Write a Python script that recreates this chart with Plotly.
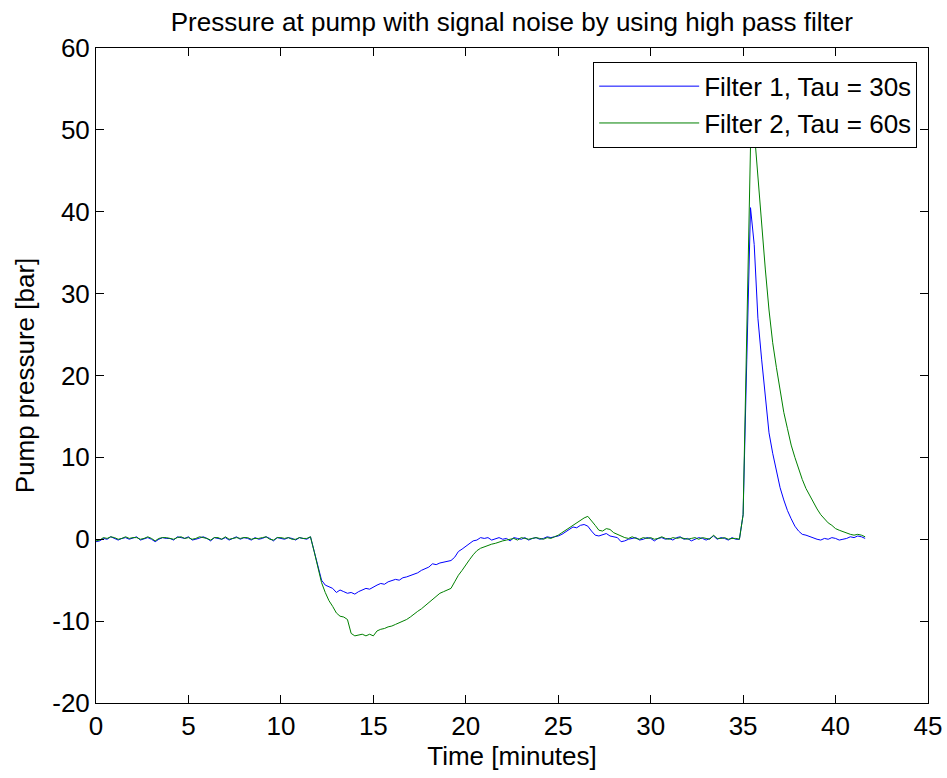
import numpy as np
import plotly.graph_objects as go

TIME_STEP_MIN = 0.2

filter1_tau30 = [
    -0.3, -0.2, 0.1, 0.0, 0.3, 0.1, -0.1, 0.1, 0.2, 0.0,
    0.2, 0.3, -0.1, 0.1, 0.2, 0.0, -0.3, 0.0, 0.2, 0.1,
    0.1, -0.1, 0.3, 0.2, 0.1, 0.3, -0.1, 0.0, 0.2, 0.3,
    0.1, -0.2, 0.2, 0.1, 0.0, 0.2, -0.1, 0.1, 0.3, 0.0,
    0.2, 0.1, -0.1, 0.2, 0.0, 0.1, 0.3, 0.1, -0.2, 0.2,
    0.1, 0.0, 0.2, 0.1, -0.1, 0.2, 0.1, 0.0, 0.3, -1.5,
    -3.5, -5.0, -5.6, -5.8, -6.0, -6.5, -6.2, -6.4, -6.6, -6.5,
    -6.7, -6.4, -6.2, -6.0, -6.1, -5.8, -5.6, -5.4, -5.5, -5.2,
    -5.0, -4.9, -5.0, -4.7, -4.6, -4.4, -4.2, -4.1, -3.8, -3.6,
    -3.4, -3.0, -3.1, -2.9, -2.8, -2.7, -2.6, -2.2, -1.5, -1.2,
    -0.9, -0.6, -0.2, -0.1, 0.2, 0.1, 0.2, -0.1, 0.1, 0.2,
    0.0, 0.1, -0.2, 0.2, 0.1, 0.0, 0.2, -0.1, 0.1, 0.2,
    0.0, 0.1, 0.3, 0.2, 0.3, 0.4, 0.6, 0.9, 1.2, 1.5,
    1.4, 1.7, 1.8, 1.6, 1.0, 0.5, 0.4, 0.6, 0.7, 0.4,
    0.3, 0.2, -0.3, -0.2, 0.0, 0.1, 0.2, -0.1, 0.0, 0.2,
    0.1, -0.2, 0.1, 0.2, 0.0, 0.1, -0.1, 0.2, 0.3, 0.0,
    0.1, -0.2, 0.0, 0.2, 0.1, -0.1, 0.1, 0.4, 0.0, 0.2,
    0.1, -0.1, 0.2, 0.0, 0.0, 3.0, 22.0, 40.5, 36.0, 27.0,
    22.0, 17.0, 13.0, 10.5, 8.2, 6.3, 4.8, 3.5, 2.5, 1.6,
    1.0, 0.6, 0.5, 0.3, 0.2, 0.0, -0.1, 0.1, 0.0, 0.2,
    0.1, -0.1, 0.0, 0.1, 0.3, 0.2, 0.4, 0.3, 0.1,
]

filter2_tau60 = [
    -0.2, -0.1, 0.2, 0.1, 0.3, 0.2, 0.0, 0.1, 0.3, 0.1,
    0.2, 0.2, 0.0, 0.1, 0.3, 0.1, -0.2, 0.1, 0.2, 0.2,
    0.1, 0.0, 0.2, 0.3, 0.1, 0.2, 0.0, 0.1, 0.3, 0.2,
    0.1, -0.1, 0.2, 0.2, 0.0, 0.3, 0.0, 0.1, 0.2, 0.1,
    0.2, 0.2, 0.0, 0.1, 0.1, 0.2, 0.3, 0.0, -0.1, 0.2,
    0.2, 0.1, 0.2, 0.0, 0.0, 0.2, 0.1, 0.1, 0.3, -1.5,
    -3.5, -5.3, -6.5, -7.5, -8.2, -9.0, -9.4, -9.5, -9.8, -11.5,
    -11.8, -11.7, -11.6, -11.8, -11.6, -11.8, -11.2, -11.0, -10.9, -10.7,
    -10.6, -10.4, -10.2, -10.0, -9.8, -9.5, -9.1, -8.8, -8.5, -8.1,
    -7.7, -7.3, -7.0, -6.6, -6.4, -6.2, -6.0, -5.2, -4.4, -3.8,
    -3.1, -2.5, -1.9, -1.4, -1.1, -0.9, -0.7, -0.6, -0.5, -0.3,
    -0.2, -0.1, 0.0, 0.1, -0.1, 0.2, 0.1, 0.0, 0.1, 0.2,
    0.1, 0.0, 0.2, 0.1, 0.3, 0.5, 0.8, 1.1, 1.5, 1.8,
    2.0, 2.3, 2.6, 2.8, 2.3, 1.7, 1.1, 1.0, 1.3, 1.2,
    0.8, 0.6, 0.3, 0.2, 0.1, 0.3, 0.1, 0.0, 0.2, 0.1,
    0.2, 0.0, 0.1, 0.3, 0.1, 0.0, 0.2, 0.1, 0.2, 0.1,
    0.0, 0.1, 0.2, 0.0, 0.2, 0.1, 0.0, 0.5, 0.1, 0.1,
    0.2, 0.0, 0.1, 0.1, 0.0, 3.0, 24.0, 48.0, 50.0, 44.0,
    38.0, 33.0, 28.0, 24.0, 21.0, 18.0, 15.5, 13.5, 11.5, 10.0,
    8.6, 7.3, 6.2, 5.3, 4.4, 3.7, 3.0, 2.5, 2.0, 1.7,
    1.3, 1.1, 0.9, 0.7, 0.6, 0.5, 0.6, 0.5, 0.3,
]

assert len(filter1_tau30) == len(filter2_tau60)
time_min = np.round(np.arange(len(filter1_tau30)) * TIME_STEP_MIN, 2)

x_ticks = [0, 5, 10, 15, 20, 25, 30, 35, 40, 45]
y_ticks = [-20, -10, 0, 10, 20, 30, 40, 50, 60]
y_tick_labels = ["-20", "-10", "0", "10", "20", "30", "40", "50", "60"]

FONT = "Liberation Sans, Arial, sans-serif"
FS = 26

fig = go.Figure()
fig.add_trace(go.Scatter(x=time_min, y=filter1_tau30, mode="lines",
                         name="Filter 1, Tau = 30s",
                         line=dict(color="#0000ff", width=1)))
fig.add_trace(go.Scatter(x=time_min, y=filter2_tau60, mode="lines",
                         name="Filter 2, Tau = 60s",
                         line=dict(color="#008000", width=1)))

axis_common = dict(showline=True, linecolor="black", linewidth=1, mirror="ticks",
                   ticks="inside", ticklen=8, tickcolor="black", showgrid=False,
                   zeroline=False, automargin=False,
                   tickfont=dict(size=FS, color="black", family=FONT))

fig.update_layout(
    width=947, height=778,
    margin=dict(l=96, r=19, t=48, b=75),
    paper_bgcolor="white", plot_bgcolor="white",
    font=dict(family=FONT, color="black"),
    title=dict(text="Pressure at pump with signal noise by using high pass filter",
               x=0.5405, xanchor="center", y=0.972, yanchor="middle",
               font=dict(size=FS, color="black", family=FONT)),
    xaxis=dict(range=[0, 45], tickvals=x_ticks,
               title=dict(text="Time [minutes]", font=dict(size=FS, family=FONT), standoff=4),
               **axis_common),
    yaxis=dict(range=[-20, 60], tickvals=y_ticks, ticktext=y_tick_labels,
               title=dict(text="Pump pressure [bar]", font=dict(size=FS, family=FONT), standoff=10),
               **axis_common),
    legend=dict(x=0.987, xanchor="right", y=0.979, yanchor="top",
                bgcolor="white", bordercolor="black", borderwidth=1,
                font=dict(size=FS, color="black", family=FONT),
                tracegroupgap=0, itemwidth=100),
    showlegend=True,
)

fig.write_html("out.html")
